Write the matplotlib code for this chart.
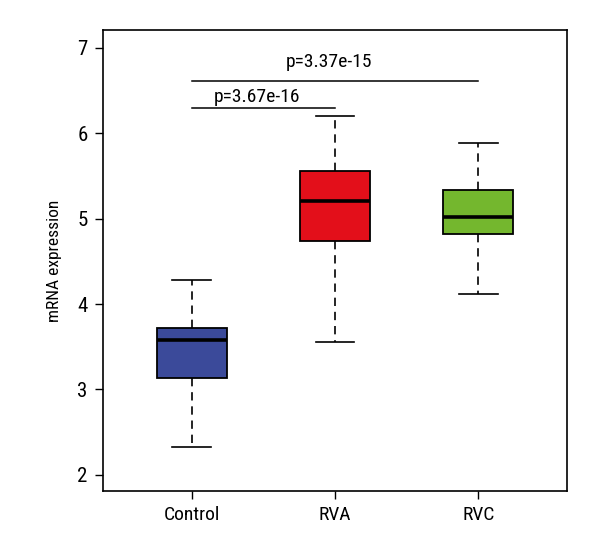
import matplotlib
matplotlib.use('Agg')
import matplotlib.pyplot as plt
from matplotlib import font_manager

names = set(f.name for f in font_manager.fontManager.ttflist)
fams = [f for f in ['Roboto Condensed', 'Liberation Sans Narrow', 'Liberation Sans'] if f in names]
plt.rcParams['font.family'] = fams + ['DejaVu Sans']

groups = ['Control', 'RVA', 'RVC']
colors = ['#3b4a9a', '#e30f1a', '#74b72e']
whislo = [2.33, 3.55, 4.12]
q1 = [3.13, 4.74, 4.82]
med = [3.58, 5.21, 5.02]
q3 = [3.72, 5.56, 5.34]
whishi = [4.28, 6.20, 5.89]

# comparisons: (group a, group b, bar height, label)
pairs = [(1, 2, 6.30, 'p=3.67e-16'), (1, 3, 6.61, 'p=3.37e-15')]
txt_off = [0.13, 0.23]

stats = []
for i in range(len(groups)):
    stats.append({'whislo': whislo[i], 'q1': q1[i], 'med': med[i],
                  'q3': q3[i], 'whishi': whishi[i], 'fliers': []})

fig = plt.figure(figsize=(6, 5.6), dpi=100)
ax = fig.add_axes([0.1717, 0.1232, 0.7733, 0.8232])

bp = ax.bxp(stats, positions=[1, 2, 3], widths=0.49, patch_artist=True,
            showfliers=False,
            boxprops=dict(linewidth=1.3, edgecolor='black'),
            medianprops=dict(color='black', linewidth=2.6),
            whiskerprops=dict(linestyle=(0, (5, 3.5)), linewidth=1.2, color='black'),
            capprops=dict(linewidth=1.2, color='black'),
            capwidths=0.27)
for patch, c in zip(bp['boxes'], colors):
    patch.set_facecolor(c)

for (a, b, h, lab), off in zip(pairs, txt_off):
    ax.plot([a, b], [h, h], color='black', linewidth=1.1)
    ax.text((a + b) / 2.0 - 0.045, h + off, lab, ha='center', va='center', fontsize=14)

ax.set_xlim(0.38, 3.62)
ax.set_ylim(1.81, 7.21)
ax.set_xticks([1, 2, 3])
ax.set_xticklabels(groups, fontsize=14)
ax.set_yticks([2, 3, 4, 5, 6, 7])
ax.set_yticklabels(['2', '3', '4', '5', '6', '7'], fontsize=15)
ax.tick_params(length=6, width=1, pad=5)
ax.set_ylabel('mRNA expression', fontsize=12.5, labelpad=11)
for s in ax.spines.values():
    s.set_linewidth(1.2)

fig.savefig('out.png', dpi=100)
